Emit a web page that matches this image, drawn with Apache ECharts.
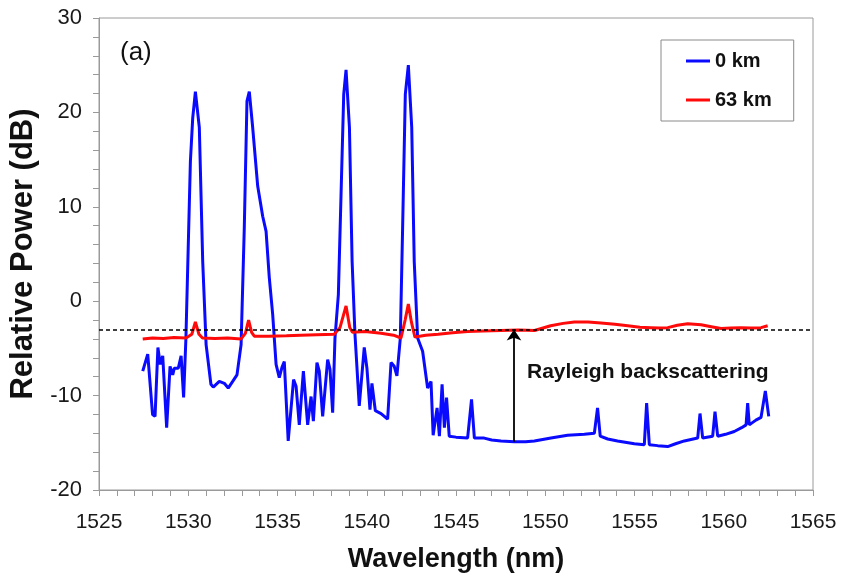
<!DOCTYPE html>
<html>
<head>
<meta charset="utf-8">
<script src="https://cdn.jsdelivr.net/npm/echarts@6/dist/echarts.min.js"></script>
<style>html,body{margin:0;padding:0;background:#fff}#c{width:842px;height:578px}</style>
</head>
<body>
<div id="c"></div>
<script>
// Blue trace: 0 km
const wl0 = [1527.45,1527.73,1528.0,1528.14,1528.30,1528.43,1528.57,1528.79,1528.98,1529.13,1529.22,1529.44,1529.60,1529.74,1529.87,1530.12,1530.25,1530.40,1530.62,1530.81,1531.0,1531.27,1531.40,1531.74,1532.02,1532.24,1532.49,1532.73,1532.96,1533.14,1533.29,1533.42,1533.61,1533.89,1534.17,1534.36,1534.54,1534.73,1534.92,1535.10,1535.25,1535.38,1535.60,1535.90,1536.04,1536.22,1536.45,1536.69,1536.88,1537.01,1537.21,1537.34,1537.53,1537.81,1537.94,1538.09,1538.22,1538.41,1538.56,1538.71,1538.84,1539.03,1539.18,1539.34,1539.58,1539.86,1540.01,1540.18,1540.29,1540.48,1540.80,1541.17,1541.36,1541.54,1541.69,1541.88,1542.01,1542.16,1542.33,1542.52,1542.66,1542.85,1543.13,1543.41,1543.60,1543.72,1543.94,1544.07,1544.22,1544.35,1544.47,1544.62,1545.0,1545.65,1545.87,1546.03,1546.58,1547.0,1547.52,1548.27,1548.9,1549.39,1550.32,1551.25,1552.19,1552.75,1552.93,1553.08,1553.5,1554.05,1554.99,1555.55,1555.68,1555.83,1556.3,1556.86,1557.3,1557.79,1558.54,1558.67,1558.82,1559.38,1559.51,1559.66,1560.1,1560.59,1561.0,1561.25,1561.34,1561.43,1561.8,1562.09,1562.33,1562.52];
const db0 = [-7.4,-5.6,-12.0,-12.2,-4.9,-6.7,-5.8,-13.4,-6.9,-7.8,-7.1,-7.1,-5.8,-10.2,-3.9,14.8,19.4,22.2,18.4,4.2,-4.6,-8.8,-9.1,-8.5,-8.7,-9.2,-8.5,-7.8,-4.6,7.8,21.2,22.2,18.4,12.2,9.0,7.4,2.5,-1.4,-6.7,-8.1,-7.0,-6.4,-14.8,-8.3,-9.0,-13.1,-7.4,-13.1,-10.1,-12.7,-6.5,-7.4,-12.2,-6.2,-7.2,-11.8,-3.9,0.7,11.3,21.9,24.5,18.4,4.2,-3.5,-11.1,-4.9,-7.1,-11.5,-8.7,-11.6,-11.9,-12.5,-6.5,-6.9,-7.9,-3.9,7.8,21.9,25.0,18.4,4.2,-3.9,-5.3,-9.2,-8.5,-14.2,-11.3,-14.3,-8.8,-13.4,-10.2,-14.3,-14.4,-14.5,-10.4,-14.5,-14.5,-14.7,-14.8,-14.9,-14.9,-14.8,-14.5,-14.2,-14.1,-14.0,-11.3,-14.3,-14.6,-14.8,-15.1,-15.2,-10.8,-15.2,-15.3,-15.4,-15.1,-14.8,-14.5,-11.9,-14.5,-14.3,-11.7,-14.3,-14.1,-13.8,-13.4,-13.1,-10.8,-13.1,-12.6,-12.3,-9.5,-12.2];

// Red trace: 63 km
const wl63 = [1527.45,1528.0,1528.6,1529.2,1529.87,1530.2,1530.4,1530.6,1530.8,1531.5,1532.2,1532.96,1533.2,1533.38,1533.55,1533.7,1534.5,1535.5,1536.3,1537.2,1538.18,1538.5,1538.84,1539.05,1539.2,1539.9,1540.8,1541.5,1541.92,1542.15,1542.33,1542.5,1542.7,1543.3,1544.0,1544.8,1545.65,1546.5,1547.52,1548.5,1549.4,1550.3,1551.0,1551.63,1552.4,1553.12,1553.9,1554.62,1555.3,1555.92,1556.4,1556.86,1557.4,1557.98,1558.73,1559.3,1559.85,1560.4,1560.97,1561.5,1562.09,1562.46];
const db63 = [-4.0,-3.9,-3.95,-3.85,-3.9,-3.5,-2.2,-3.5,-3.9,-3.95,-3.9,-4.0,-3.4,-2.0,-3.3,-3.7,-3.7,-3.65,-3.6,-3.55,-3.5,-2.8,-0.5,-2.8,-3.3,-3.2,-3.4,-3.6,-3.9,-2.0,-0.3,-2.2,-3.8,-3.6,-3.5,-3.35,-3.2,-3.15,-3.1,-3.05,-3.1,-2.6,-2.35,-2.2,-2.2,-2.3,-2.45,-2.6,-2.75,-2.8,-2.85,-2.8,-2.55,-2.4,-2.5,-2.7,-2.9,-2.85,-2.8,-2.85,-2.8,-2.6];

const seriesNames = ['0 km', '63 km'];
const rayleighLevel = -3;            // dashed reference line (dB)
const arrowWl = 1548.25;             // arrow wavelength (nm)
const arrowFrom = -14.9;             // arrow start (dB)
const xTicks = [1525, 1565, 5];      // min, max, interval
const yTicks = [-20, 30, 10];

const pairs = (xs, ys) => xs.map((x, i) => [x, ys[i]]);
const chart = echarts.init(document.getElementById('c'), null, {renderer: 'canvas'});
const axisGray = '#9a9a9a';
const font = 'Liberation Sans, Arial, sans-serif';

chart.setOption({
  animation: false,
  backgroundColor: '#fff',
  grid: {left: 99, right: 29, top: 18, bottom: 88, show: true, borderColor: axisGray, borderWidth: 1, backgroundColor: 'transparent'},
  xAxis: {
    type: 'value', min: xTicks[0], max: xTicks[1], interval: xTicks[2],
    name: 'Wavelength (nm)', nameLocation: 'middle', nameGap: 56,
    nameTextStyle: {fontFamily: font, fontSize: 27, fontWeight: 'bold', color: '#111'},
    axisLine: {show: true, onZero: false, lineStyle: {color: axisGray, width: 1}},
    axisTick: {show: true, length: 6, inside: false, lineStyle: {color: axisGray}},
    minorTick: {show: true, splitNumber: 5, length: 6, lineStyle: {color: axisGray}},
    axisLabel: {fontFamily: font, fontSize: 21, color: '#1a1a1a', margin: 22, formatter: v => String(v)},
    splitLine: {show: false}
  },
  yAxis: {
    type: 'value', min: yTicks[0], max: yTicks[1], interval: yTicks[2],
    name: 'Relative Power (dB)', nameLocation: 'middle', nameGap: 56,
    nameTextStyle: {fontFamily: font, fontSize: 31, fontWeight: 'bold', color: '#111'},
    axisLine: {show: true, onZero: false, lineStyle: {color: axisGray, width: 1}},
    axisTick: {show: true, length: 6, inside: false, lineStyle: {color: axisGray}},
    minorTick: {show: true, splitNumber: 5, length: 6, lineStyle: {color: axisGray}},
    axisLabel: {fontFamily: font, fontSize: 22, color: '#1a1a1a', margin: 17, formatter: v => String(v)},
    splitLine: {show: false}
  },
  legend: {
    orient: 'vertical', left: 661, top: 40,
    data: seriesNames,
    icon: 'rect', itemWidth: 24, itemHeight: 3, itemGap: 19,
    padding: [11, 22, 11, 25],
    borderColor: '#8a8a8a', borderWidth: 1, backgroundColor: '#fff',
    textStyle: {fontFamily: font, fontSize: 20, fontWeight: 'bold', color: '#111'}
  },
  series: [
    {
      name: seriesNames[0], type: 'line', data: pairs(wl0, db0),
      showSymbol: false, symbol: 'none', smooth: false,
      lineStyle: {color: '#0a0aff', width: 3}, itemStyle: {color: '#0a0aff'},
      z: 2,
      markLine: {
        silent: true, animation: false,
        symbol: ['none', 'arrow'], symbolSize: 11,
        label: {show: false},
        lineStyle: {color: '#000', width: 1.8, type: 'solid'},
        data: [[{coord: [arrowWl, arrowFrom]}, {coord: [arrowWl, rayleighLevel]}]]
      }
    },
    {
      name: seriesNames[1], type: 'line', data: pairs(wl63, db63),
      showSymbol: false, symbol: 'none', smooth: false,
      lineStyle: {color: '#ff0a0a', width: 3}, itemStyle: {color: '#ff0a0a'},
      z: 3,
      markLine: {
        silent: true, animation: false,
        symbol: ['none', 'none'],
        label: {show: false},
        lineStyle: {color: '#000', width: 1.5, type: [4, 3]},
        data: [{yAxis: rayleighLevel}]
      }
    }
  ],
  graphic: [
    {type: 'text', left: 120, top: 40, style: {text: '(a)', font: '26px Liberation Sans, Arial, sans-serif', fill: '#111'}},
    {type: 'text', left: 527, top: 362, style: {text: 'Rayleigh backscattering', font: 'bold 21px Liberation Sans, Arial, sans-serif', fill: '#111'}}
  ]
});
</script>
</body>
</html>
